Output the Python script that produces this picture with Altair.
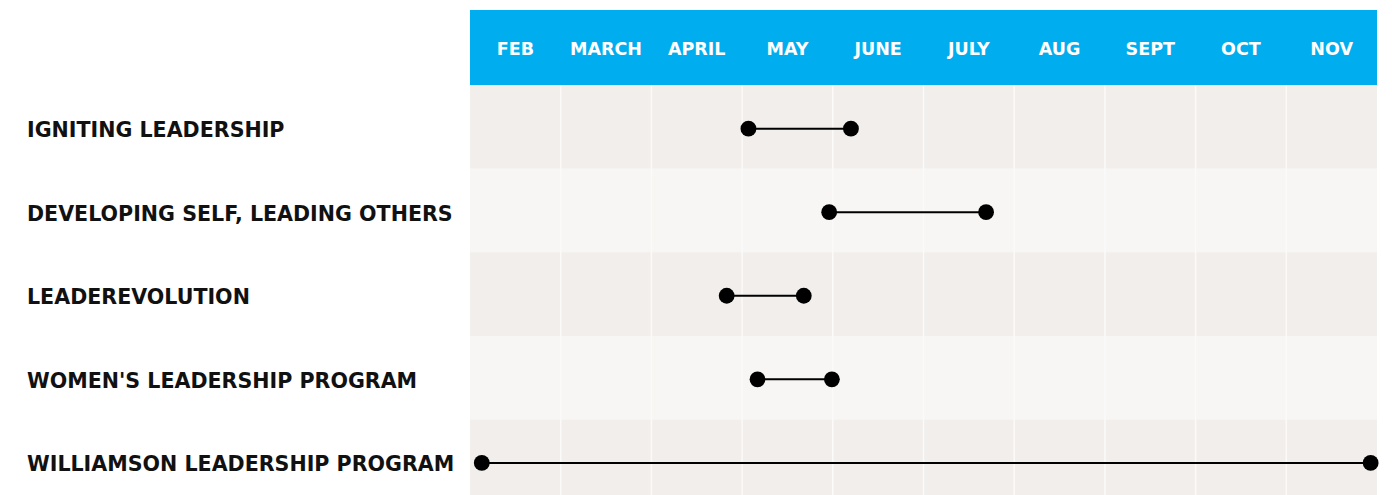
import altair as alt
import pandas as pd

# ---- data ----
months = ["FEB", "MARCH", "APRIL", "MAY", "JUNE", "JULY", "AUG", "SEPT", "OCT", "NOV"]
programs = [
    "IGNITING LEADERSHIP",
    "DEVELOPING SELF, LEADING OTHERS",
    "LEADEREVOLUTION",
    "WOMEN'S LEADERSHIP PROGRAM",
    "WILLIAMSON LEADERSHIP PROGRAM",
]
# start / end in month units (0 = start of FEB, 10 = end of NOV)
start = [3.07, 3.96, 2.83, 3.17, 0.13]
end = [4.20, 5.69, 3.68, 3.99, 9.93]

# ---- tables built from the lists ----
n = len(programs)
HEADER_TOP = -0.9
DOT_CENTER = 0.52
LABEL_CENTER = 0.55

month_df = pd.DataFrame({"m": months, "x": [i + 0.5 for i in range(len(months))],
                         "y": [HEADER_TOP / 2] * len(months)})
header_df = pd.DataFrame({"x": [0], "x2": [len(months)], "y": [HEADER_TOP], "y2": [0]})
rows_df = pd.DataFrame({
    "x": [0] * n, "x2": [len(months)] * n,
    "y": list(range(n)), "y2": [i + 1 for i in range(n)],
    "shade": ["odd" if i % 2 == 0 else "even" for i in range(n)],
})
grid_df = pd.DataFrame({"x": list(range(1, len(months))),
                        "y": [0] * (len(months) - 1), "y2": [n] * (len(months) - 1)})
label_df = pd.DataFrame({"program": programs, "y": [i + LABEL_CENTER for i in range(n)]})
prog_df = pd.DataFrame({"program": programs, "start": start, "end": end,
                        "y": [i + DOT_CENTER for i in range(n)]})
pts_df = pd.DataFrame({
    "program": programs * 2,
    "x": start + end,
    "y": [i + DOT_CENTER for i in range(n)] * 2,
})

xs = alt.Scale(domain=[0, len(months)], nice=False, zero=False)
ys = alt.Scale(domain=[HEADER_TOP, n], reverse=True, nice=False, zero=False)

header = alt.Chart(header_df).mark_rect(color="#00AEEF").encode(
    x=alt.X("x:Q", scale=xs, axis=None), x2="x2:Q",
    y=alt.Y("y:Q", scale=ys, axis=None), y2="y2:Q",
)

rows = alt.Chart(rows_df).mark_rect().encode(
    x=alt.X("x:Q", scale=xs, axis=None), x2="x2:Q",
    y=alt.Y("y:Q", scale=ys, axis=None), y2="y2:Q",
    color=alt.Color("shade:N", scale=alt.Scale(domain=["odd", "even"],
                                               range=["#F1EEEB", "#F7F6F4"]), legend=None),
)

grid = alt.Chart(grid_df).mark_rule(color="#FBFAF9", strokeWidth=1.5).encode(
    x=alt.X("x:Q", scale=xs, axis=None),
    y=alt.Y("y:Q", scale=ys, axis=None), y2="y2:Q",
)

month_text = alt.Chart(month_df).mark_text(
    color="white", font="DejaVu Sans", fontWeight="bold", fontSize=17.5,
    baseline="middle", align="center", dy=2
).encode(
    x=alt.X("x:Q", scale=xs, axis=None),
    y=alt.Y("y:Q", scale=ys, axis=None),
    text="m:N",
)

prog_text = alt.Chart(label_df).mark_text(
    color="#111111", font="DejaVu Sans", fontWeight="bold", fontSize=20.6,
    baseline="middle", align="left"
).encode(
    x=alt.value(-443),
    y=alt.Y("y:Q", scale=ys, axis=None),
    text="program:N",
)

lines = alt.Chart(prog_df).mark_rule(color="black", strokeWidth=2).encode(
    x=alt.X("start:Q", scale=xs, axis=None), x2="end:Q",
    y=alt.Y("y:Q", scale=ys, axis=None),
)

pts = alt.Chart(pts_df).mark_circle(color="black", opacity=1, size=250).encode(
    x=alt.X("x:Q", scale=xs, axis=None),
    y=alt.Y("y:Q", scale=ys, axis=None),
)

chart = alt.layer(header, rows, grid, month_text, prog_text, lines, pts).properties(
    width=907, height=493,
    autosize=alt.AutoSizeParams(type="none"),
    padding={"left": 462, "top": 2, "right": 7, "bottom": 0},
).configure_view(stroke=None)

chart.save("out.html", embed_options={"renderer": "svg", "actions": False})
